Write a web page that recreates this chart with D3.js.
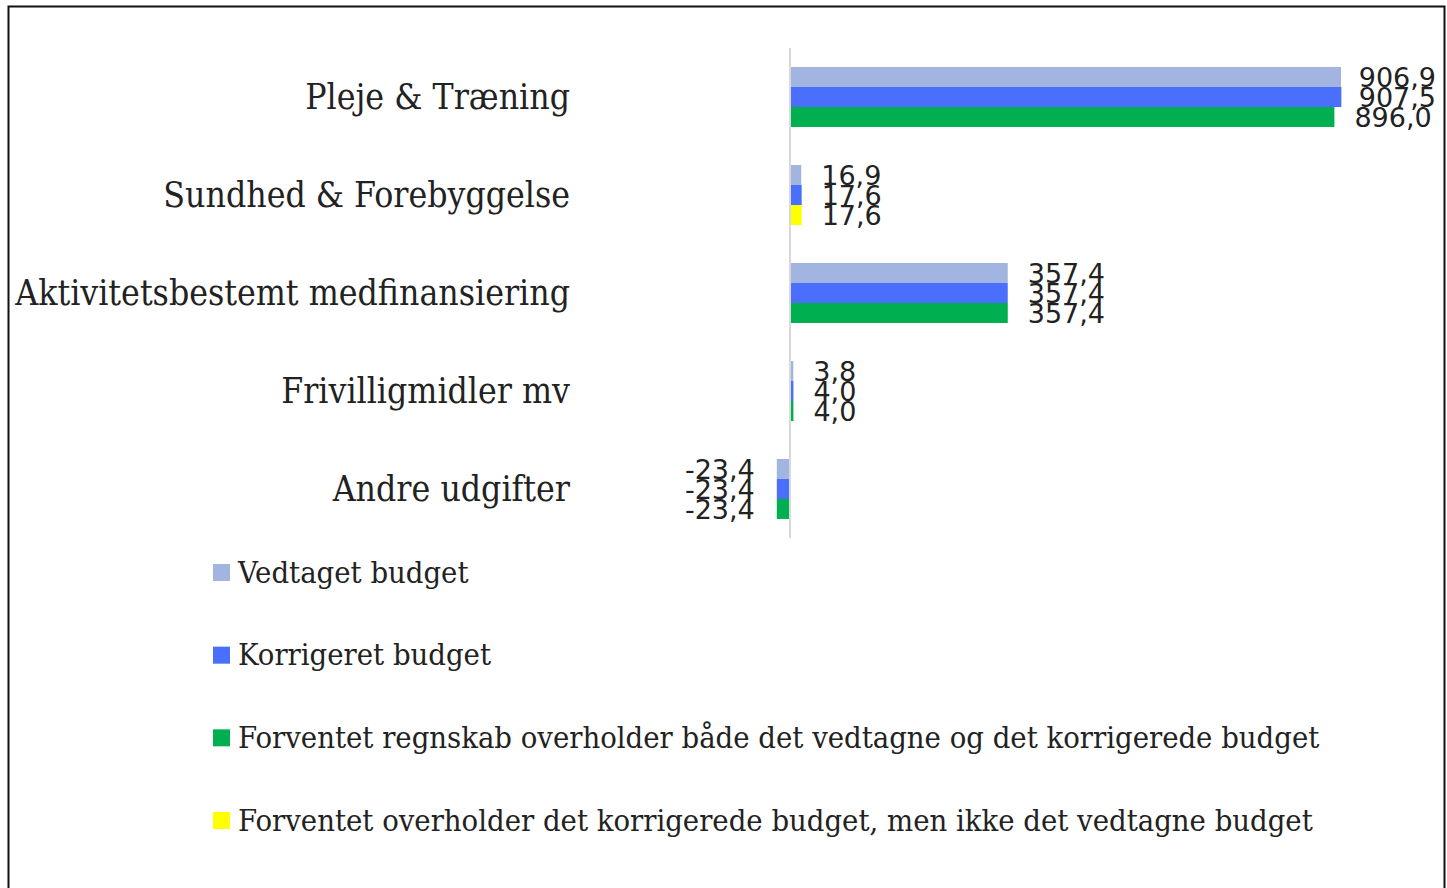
<!DOCTYPE html>
<html>
<head>
<meta charset="utf-8">
<script src="https://cdn.jsdelivr.net/npm/d3@7"></script>
<style>
  body { margin: 0; background: #fff; }
  svg { display: block; }
</style>
</head>
<body>
<div id="chart"></div>
<script>
// data
const categories = ["Pleje & Træning", "Sundhed & Forebyggelse", "Aktivitetsbestemt medfinansiering", "Frivilligmidler mv", "Andre udgifter"];
const vedtaget = [906.9, 16.9, 357.4, 3.8, -23.4];
const korrigeret = [907.5, 17.6, 357.4, 4.0, -23.4];
const forventet = [896.0, 17.6, 357.4, 4.0, -23.4];
// status of expected result per category: "both" = green, "korr" = yellow
const forventetStatus = ["both", "korr", "both", "both", "both"];
const legendLabels = [
    "Vedtaget budget",
    "Korrigeret budget",
    "Forventet regnskab overholder både det vedtagne og det korrigerede budget",
    "Forventet overholder det korrigerede budget, men ikke det vedtagne budget"
];

const colors = {
    vedtaget: "#a2b4e0",
    korrigeret: "#4a6ffd",
    both: "#00b050",
    korr: "#ffff00"
};

const W = 1447, H = 888;
const serif = "'DejaVu Serif Condensed', 'DejaVu Serif', serif";
const numFont = "'DejaVu Sans', sans-serif";

const svg = d3.select("#chart").append("svg")
    .attr("width", W)
    .attr("height", H);

// frame
svg.append("rect")
    .attr("x", 8.5).attr("y", 6.5)
    .attr("width", 1436).attr("height", 900)
    .attr("fill", "#fff")
    .attr("stroke", "#111")
    .attr("stroke-width", 2);

// scales
const x = d3.scaleLinear()
    .domain([0, 906.9])
    .range([791, 1341]);

const y = d3.scaleBand()
    .domain(categories)
    .range([48, 538])
    .paddingInner(0.388)
    .paddingOuter(0.194);

const series = [
    {key: "vedtaget", values: vedtaget},
    {key: "korrigeret", values: korrigeret},
    {key: "forventet", values: forventet}
];

const ySub = d3.scaleBand()
    .domain(series.map(s => s.key))
    .range([0, y.bandwidth()]);

const rows = [];
categories.forEach((c, i) => {
    series.forEach(s => {
        rows.push({
            cat: c,
            key: s.key,
            value: s.values[i],
            color: s.key === "forventet" ? colors[forventetStatus[i]] : colors[s.key]
        });
    });
});

const g = svg.append("g");

g.selectAll("rect.bar")
    .data(rows)
    .enter().append("rect")
    .attr("class", "bar")
    .attr("x", d => x(Math.min(0, d.value)))
    .attr("y", d => y(d.cat) + ySub(d.key))
    .attr("width", d => Math.abs(x(d.value) - x(0)))
    .attr("height", ySub.bandwidth())
    .attr("fill", d => d.color);

// axis line
svg.append("line")
    .attr("x1", x(0) - 1).attr("x2", x(0) - 1)
    .attr("y1", y.range()[0]).attr("y2", y.range()[1])
    .attr("stroke", "#d9d9d9")
    .attr("stroke-width", 2);

// data labels
const fmt = v => d3.format(".1f")(v).replace(".", ",").replace("−", "-");

const labels = g.selectAll("text.val")
    .data(rows)
    .enter().append("text")
    .attr("class", "val")
    .attr("font-family", numFont)
    .attr("font-size", 27)
    .attr("fill", "#222")
    .attr("dy", "0.36em")
    .attr("y", d => y(d.cat) + ySub(d.key) + ySub.bandwidth() / 2)
    .text(d => fmt(d.value));

labels.each(function(d) {
    let t = d3.select(this);
    let w = this.getComputedTextLength();
    if (d.value >= 0) {
        let px = Math.min(x(d.value) + 20, 1436 - w);
        t.attr("x", px);
    } else {
        t.attr("x", x(d.value) - 22).attr("text-anchor", "end");
    }
});

// category labels
const catText = svg.selectAll("text.cat")
    .data(categories)
    .enter().append("text")
    .attr("class", "cat")
    .attr("x", 570)
    .attr("y", d => y(d) + y.bandwidth() / 2)
    .attr("dy", "0.35em")
    .attr("text-anchor", "end")
    .attr("font-family", serif)
    .attr("font-size", 32)
    .attr("fill", "#222")
    .text(d => d);

// fit widest category label to the reference width
let maxW = d3.max(catText.nodes(), n => n.getComputedTextLength());
catText.attr("font-size", 32 * 555 / maxW);

// legend
const legend = svg.append("g");
const legColors = [colors.vedtaget, colors.korrigeret, colors.both, colors.korr];
const legY = d3.scalePoint()
    .domain(legendLabels)
    .range([572, 820]);

const items = legend.selectAll("g")
    .data(legendLabels)
    .enter().append("g")
    .attr("transform", d => "translate(0," + legY(d) + ")");

items.append("rect")
    .attr("x", 213).attr("y", -8)
    .attr("width", 17).attr("height", 17)
    .attr("fill", (d, i) => legColors[i]);

const legText = items.append("text")
    .attr("x", 238)
    .attr("dy", "0.35em")
    .attr("font-family", serif)
    .attr("font-size", 30)
    .attr("fill", "#222")
    .text(d => d);

let legMax = d3.max(legText.nodes(), n => n.getComputedTextLength());
legText.attr("font-size", 30 * 1082 / legMax);
</script>
</body>
</html>
